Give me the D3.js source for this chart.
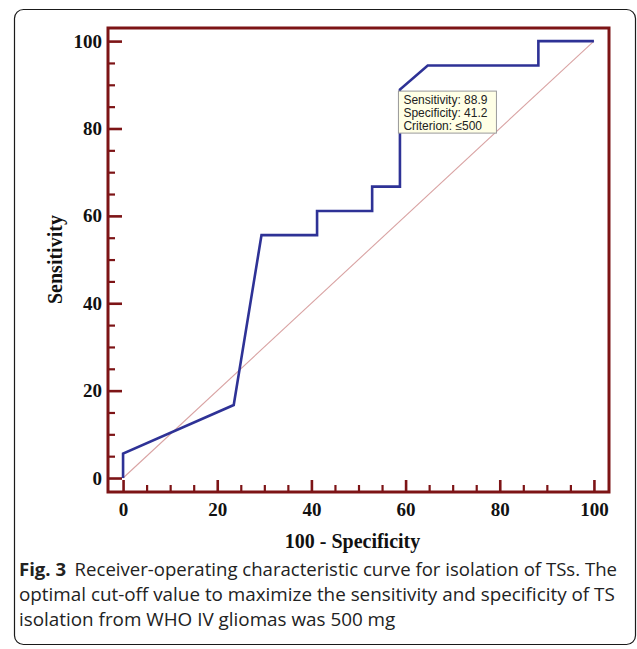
<!DOCTYPE html>
<html>
<head>
<meta charset="utf-8">
<script src="https://cdn.jsdelivr.net/npm/d3@7/dist/d3.min.js"></script>
<style>
  body { margin: 0; background: #fff; }
  svg { display: block; }
</style>
</head>
<body>
<div id="chart"></div>
<script>
// ROC curve points (100 - specificity, sensitivity)
const fpr = [0, 0, 23.5, 29.4, 41.2, 41.2, 52.9, 52.9, 58.8, 58.8, 64.7, 88.2, 88.2, 100];
const tpr = [0, 5.6, 16.7, 55.6, 55.6, 61.1, 61.1, 66.7, 66.7, 88.9, 94.4, 94.4, 100, 100];
const majorTicks = [0, 20, 40, 60, 80, 100];
const minorTicks = [5, 10, 15, 25, 30, 35, 45, 50, 55, 65, 70, 75, 85, 90, 95];
const tipLines = ["Sensitivity: 88.9", "Specificity: 41.2", "Criterion: \u2264500"];
const tipPoint = [58.8, 88.9];
const captionLines = [
  ["Fig. 3", "Receiver-operating characteristic curve for isolation of TSs. The"],
  ["", "optimal cut-off value to maximize the sensitivity and specificity of TS"],
  ["", "isolation from WHO IV gliomas was 500 mg"]
];

const W = 637, H = 649;
const frameCol = "#7d1416", lineCol = "#2e3296", diagCol = "#d9a3a3";

const svg = d3.select("#chart").append("svg")
  .attr("width", W).attr("height", H);

// outer rounded box
svg.append("rect")
  .attr("x", 14.5).attr("y", 9.5).attr("width", 621).attr("height", 635)
  .attr("rx", 9)
  .attr("fill", "none").attr("stroke", "#1a1a1a").attr("stroke-width", 1.2);

const x = d3.scaleLinear().domain([-3.2, 103.2]).range([108, 609]);
const y = d3.scaleLinear().domain([-3.2, 103]).range([492, 28]);

const serif = "'Liberation Serif', 'Times New Roman', serif";

// minor ticks
svg.append("g").attr("transform", `translate(${x.range()[0]},0)`)
  .call(d3.axisLeft(y).tickValues(minorTicks).tickSize(-7).tickFormat(""))
  .call(g => g.select(".domain").remove())
  .call(g => g.selectAll("line").attr("stroke", frameCol).attr("stroke-width", 2.2));
svg.append("g").attr("transform", `translate(0,${y.range()[0]})`)
  .call(d3.axisBottom(x).tickValues(minorTicks).tickSize(-7).tickFormat(""))
  .call(g => g.select(".domain").remove())
  .call(g => g.selectAll("line").attr("stroke", frameCol).attr("stroke-width", 2.2));

// major ticks + labels
const yAxis = svg.append("g").attr("transform", `translate(${x.range()[0]},0)`)
  .call(d3.axisLeft(y).tickValues(majorTicks).tickSize(-14).tickPadding(6));
const xAxis = svg.append("g").attr("transform", `translate(0,${y.range()[0]})`)
  .call(d3.axisBottom(x).tickValues(majorTicks).tickSize(-12).tickPadding(11));
[yAxis, xAxis].forEach(g => {
  g.select(".domain").remove();
  g.selectAll("line").attr("stroke", frameCol).attr("stroke-width", 2.6);
  g.selectAll("text")
    .attr("fill", "#111")
    .style("font-family", serif)
    .style("font-weight", "bold")
    .style("font-size", "19px");
});

// frame
svg.append("rect")
  .attr("x", x.range()[0]).attr("y", y.range()[1])
  .attr("width", x.range()[1] - x.range()[0])
  .attr("height", y.range()[0] - y.range()[1])
  .attr("fill", "none").attr("stroke", frameCol).attr("stroke-width", 3);

// diagonal reference line
svg.append("line")
  .attr("x1", x(0)).attr("y1", y(0)).attr("x2", x(100)).attr("y2", y(100))
  .attr("stroke", diagCol).attr("stroke-width", 1.1);

// ROC curve
const pts = fpr.map((v, i) => [v, tpr[i]]);
svg.append("path")
  .datum(pts)
  .attr("d", d3.line().x(d => x(d[0])).y(d => y(d[1])))
  .attr("fill", "none").attr("stroke", lineCol).attr("stroke-width", 2.6)
  .attr("stroke-linejoin", "miter");

// tooltip
const tx = x(tipPoint[0]), ty = y(tipPoint[1]);
svg.append("rect")
  .attr("x", tx - 1.5).attr("y", ty + 1.5).attr("width", 98).attr("height", 42)
  .attr("fill", "#ffffe6").attr("stroke", "#9a9a9a").attr("stroke-width", 1);
svg.append("g").selectAll("text").data(tipLines).join("text")
  .attr("x", tx + 3.5).attr("y", (d, i) => ty + 14.5 + i * 13)
  .text(d => d)
  .style("font-family", "'Liberation Sans', Arial, sans-serif")
  .style("font-size", "12px")
  .attr("fill", "#222");

// axis titles
svg.append("text")
  .attr("x", (x(0) + x(100)) / 2 - 6).attr("y", 548)
  .attr("text-anchor", "middle")
  .style("font-family", serif).style("font-weight", "bold").style("font-size", "20px")
  .attr("fill", "#111")
  .text("100 - Specificity");
svg.append("text")
  .attr("transform", `translate(62,${(y(0) + y(100)) / 2}) rotate(-90)`)
  .attr("text-anchor", "middle")
  .style("font-family", serif).style("font-weight", "bold").style("font-size", "20px")
  .attr("fill", "#111")
  .text("Sensitivity");

// caption: same horizontal squeeze on every line, fitted so line 1 spans the box
const cap = svg.append("g")
  .style("font-family", "'Open Sans', 'Noto Sans', sans-serif")
  .style("font-size", "17.5px")
  .attr("fill", "#222");
const capTexts = captionLines.map((ln, i) => {
  const t = cap.append("text")
    .attr("x", 19).attr("y", 576 + i * 25);
  if (ln[0]) {
    t.append("tspan").style("font-weight", "bold").text(ln[0]);
    t.append("tspan").attr("dx", 8).text(ln[1]);
  } else {
    t.text(ln[1]);
  }
  return t;
});
const squeeze = 598 / capTexts[0].node().getComputedTextLength();
capTexts.forEach(t => {
  const w = t.node().getComputedTextLength();
  t.attr("textLength", w * squeeze).attr("lengthAdjust", "spacingAndGlyphs");
});
</script>
</body>
</html>
